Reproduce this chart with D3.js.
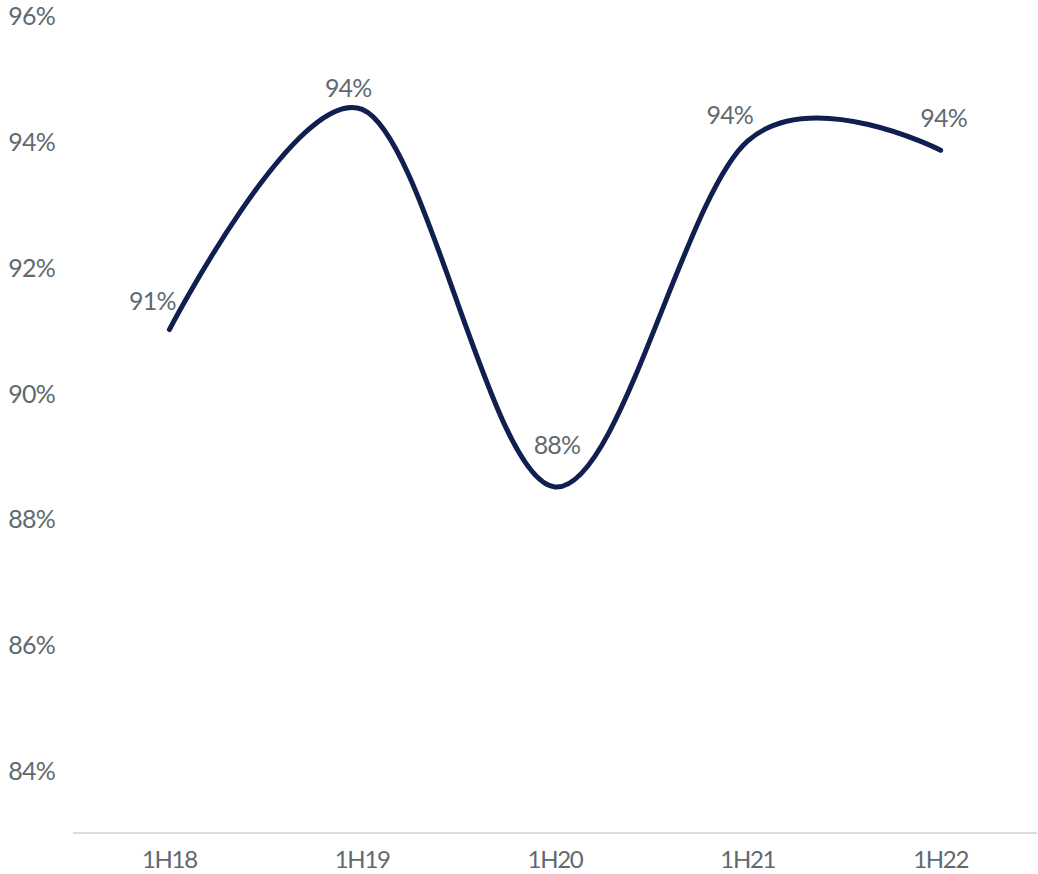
<!DOCTYPE html>
<html>
<head>
<meta charset="utf-8">
<script src="https://cdn.jsdelivr.net/npm/d3@7"></script>
<style>
  html, body { margin: 0; padding: 0; background: #ffffff; }
  svg { display: block; }
  text { font-family: Lato, "Open Sans", sans-serif; fill: #5f6a70; font-weight: 400; }
</style>
</head>
<body>
<svg id="chart" width="1038" height="874"></svg>
<script>
const categories = ["1H18", "1H19", "1H20", "1H21", "1H22"];
const values = [91.0, 94.5, 88.5, 94.0, 93.85];
const valueLabels = ["91%", "94%", "88%", "94%", "94%"];
const yTicks = [84, 86, 88, 90, 92, 94, 96];
const yTickLabels = ["84%", "86%", "88%", "90%", "92%", "94%", "96%"];

// label placement offsets (px) relative to each point
const labelDx = [-17, -14, 2, -18, 3];
const labelDy = [-30, -22, -43, -27, -33];

const svg = d3.select("#chart");
const x = d3.scaleBand().domain(categories).range([73, 1037]).padding(0);
const y = d3.scaleLinear().domain([83, 96]).range([833, 15]);
const cx = c => x(c) + x.bandwidth() / 2;

// y tick labels
svg.append("g").selectAll("text").data(yTicks).join("text")
  .attr("x", 55).attr("y", d => y(d))
  .attr("text-anchor", "end").attr("dominant-baseline", "central")
  .attr("font-size", 25).attr("letter-spacing", -0.8)
  .text((d, i) => yTickLabels[i]);

// x axis line
svg.append("line")
  .attr("x1", 73).attr("x2", 1037)
  .attr("y1", y(83)).attr("y2", y(83))
  .attr("stroke", "#d9dde0").attr("stroke-width", 2);

// x labels
svg.append("g").selectAll("text").data(categories).join("text")
  .attr("x", d => cx(d)).attr("y", 858)
  .attr("text-anchor", "middle").attr("dominant-baseline", "central")
  .attr("font-size", 24).attr("letter-spacing", -1.3)
  .text(d => d);

// line
const line = d3.line()
  .x((d, i) => cx(categories[i]))
  .y(d => y(d))
  .curve(d3.curveCardinal.tension(0));

svg.append("path").datum(values)
  .attr("d", line)
  .attr("fill", "none")
  .attr("stroke", "#111f50")
  .attr("stroke-width", 5)
  .attr("stroke-linecap", "round")
  .attr("stroke-linejoin", "round");

// data labels
svg.append("g").selectAll("text").data(values).join("text")
  .attr("x", (d, i) => cx(categories[i]) + labelDx[i])
  .attr("y", (d, i) => y(d) + labelDy[i])
  .attr("text-anchor", "middle").attr("dominant-baseline", "central")
  .attr("font-size", 25).attr("letter-spacing", -0.8)
  .text((d, i) => valueLabels[i]);
</script>
</body>
</html>
